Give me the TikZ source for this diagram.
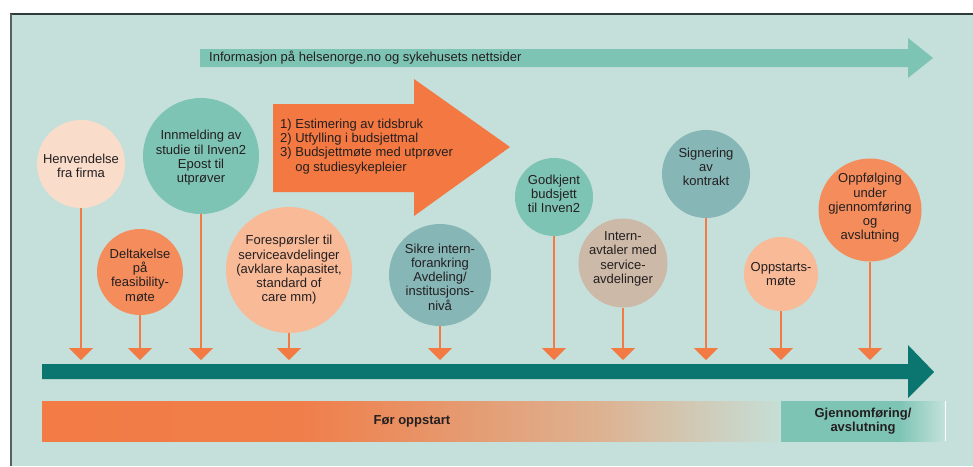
\documentclass[tikz,border=0pt]{standalone}
\usepackage{fontspec}
\setmainfont{Liberation Sans}
\usetikzlibrary{arrows.meta}
\definecolor{bg}{HTML}{C5E0DA}
\definecolor{frameTop}{HTML}{2E3B39}
\definecolor{frameLeft}{HTML}{55625F}
\definecolor{txtcol}{HTML}{231F20}
\definecolor{peach}{HTML}{FADCCB}
\definecolor{tealA}{HTML}{7EC4B5}
\definecolor{orangeM}{HTML}{F58C5B}
\definecolor{orangeL}{HTML}{F9BA98}
\definecolor{greyteal}{HTML}{86B6B6}
\definecolor{tan}{HTML}{CDB9A7}
\definecolor{bigorange}{HTML}{F37841}
\definecolor{stemcol}{HTML}{F37A43}
\definecolor{timeline}{HTML}{0B7570}
\definecolor{barA}{HTML}{F37B45}
\definecolor{barB}{HTML}{F07E4A}
\definecolor{barC}{HTML}{DDB291}
\definecolor{barD}{HTML}{C6DED6}
\definecolor{tealEnd}{HTML}{C3E2DA}
\pgfdeclarehorizontalshading{orangebar}{100bp}{color(0bp)=(barA); color(25bp)=(barA); color(42.5bp)=(barB); color(62.8bp)=(barC); color(75bp)=(barD); color(100bp)=(barD)}
\pgfdeclarehorizontalshading{tealbar}{100bp}{color(0bp)=(tealA); color(25bp)=(tealA); color(61bp)=(tealA); color(75bp)=(tealEnd); color(100bp)=(tealEnd)}
\tikzset{
  bubble/.style={circle, inner sep=0pt, draw=none},
  txt/.style={font=\fontsize{13}{14.3}\selectfont, align=center, text=txtcol, inner sep=0pt},
  stem/.style={draw=stemcol, line width=2pt, -{Triangle[width=24pt,length=12pt]}},
  bold/.style={font=\fontsize{13}{14.3}\selectfont\bfseries, align=center, text=txtcol, inner sep=0pt}
}
\begin{document}
\begin{tikzpicture}[x=1pt,y=-1pt]
\useasboundingbox (0,0) rectangle (973,466);
% background and frame
\fill[white] (0,0) rectangle (973,466);
\fill[bg] (11,14) rectangle (973,466);
\draw[frameTop, line width=1.3pt] (10,14) -- (973,14);
\draw[frameLeft, line width=2pt] (11,14) -- (11,466);

% info arrow
\fill[tealA] (200,49) -- (908,49) -- (908,38) -- (933,58) -- (908,78) -- (908,67) -- (200,67) -- cycle;
\node[txt, anchor=west] (info) at (209,58) {Informasjon på helsenorge.no og sykehusets nettsider};

% big orange arrow
\fill[bigorange] (273,104) -- (414,104) -- (414,79) -- (510,147) -- (414,216) -- (414,192) -- (273,192) -- cycle;
\node[txt, align=left, anchor=north west] (steps) at (280,118.5) {1) Estimering av tidsbruk\\2) Utfylling i budsjettmal\\3) Budsjettmøte med utprøver\\\phantom{3) }og studiesykepleier};

% timeline arrow
\fill[timeline] (42,364) -- (908,364) -- (908,345) -- (934,372) -- (908,398) -- (908,379) -- (42,379) -- cycle;

% bottom bar
\shade[shading=orangebar] (42,401) rectangle (780,441);
\shade[shading=tealbar] (781,401) rectangle (945,441);
\draw[white, line width=1pt] (945.5,401) -- (945.5,441);
\node[bold] (before) at (412,421) {Før oppstart};
\node[bold] (after) at (863,421) {Gjennomføring/\\avslutning};

% circles
\node[bubble, fill=peach, minimum size=88pt] (c1) at (81,164) {};
\node[txt] (t1) at (81,166) {Henvendelse\\fra firma};
\node[bubble, fill=tealA, minimum size=116pt] (c2) at (201,156) {};
\node[txt] (t2) at (201,158) {Innmelding av\\studie til Inven2\\Epost til\\utprøver};
\node[bubble, fill=orangeM, minimum size=86pt] (c3) at (140,272) {};
\node[txt] (t3) at (140,275) {Deltakelse\\på\\feasibility-\\møte};
\node[bubble, fill=orangeL, minimum size=126pt] (c4) at (289,270) {};
\node[txt] (t4) at (289,270) {Forespørsler til\\serviceavdelinger\\(avklare kapasitet,\\standard of\\care mm)};
\node[bubble, fill=greyteal, minimum size=102pt] (c5) at (440,275) {};
\node[txt] (t5) at (440,277) {Sikre intern-\\forankring\\Avdeling/\\institusjons-\\nivå};
\node[bubble, fill=tealA, minimum size=78pt] (c6) at (554,197) {};
\node[txt] (t6) at (554,194) {Godkjent\\budsjett\\til Inven2};
\node[bubble, fill=tan, minimum size=89pt] (c7) at (623,263) {};
\node[txt] (t7) at (623,259) {Intern-\\avtaler med\\service-\\avdelinger};
\node[bubble, fill=greyteal, minimum size=88pt] (c8) at (706,174) {};
\node[txt] (t8) at (706,167) {Signering\\av\\kontrakt};
\node[bubble, fill=orangeL, minimum size=74pt] (c9) at (781,274) {};
\node[txt] (t9) at (781,274) {Oppstarts-\\møte};
\node[bubble, fill=orangeM, minimum size=103pt] (c10) at (870,210) {};
\node[txt] (t10) at (870,208) {Oppfølging\\under\\gjennomføring\\og\\avslutning};

% arrow tips on timeline
\coordinate (p1) at (81,360);
\coordinate (p2) at (201,360);
\coordinate (p3) at (140,360);
\coordinate (p4) at (289,360);
\coordinate (p5) at (440,360);
\coordinate (p6) at (554,360);
\coordinate (p7) at (623,360);
\coordinate (p8) at (706,360);
\coordinate (p9) at (781,360);
\coordinate (p10) at (870,360);
\foreach \i in {1,...,10} {\draw[stem] (c\i.south) -- (p\i);}
\end{tikzpicture}
\end{document}
